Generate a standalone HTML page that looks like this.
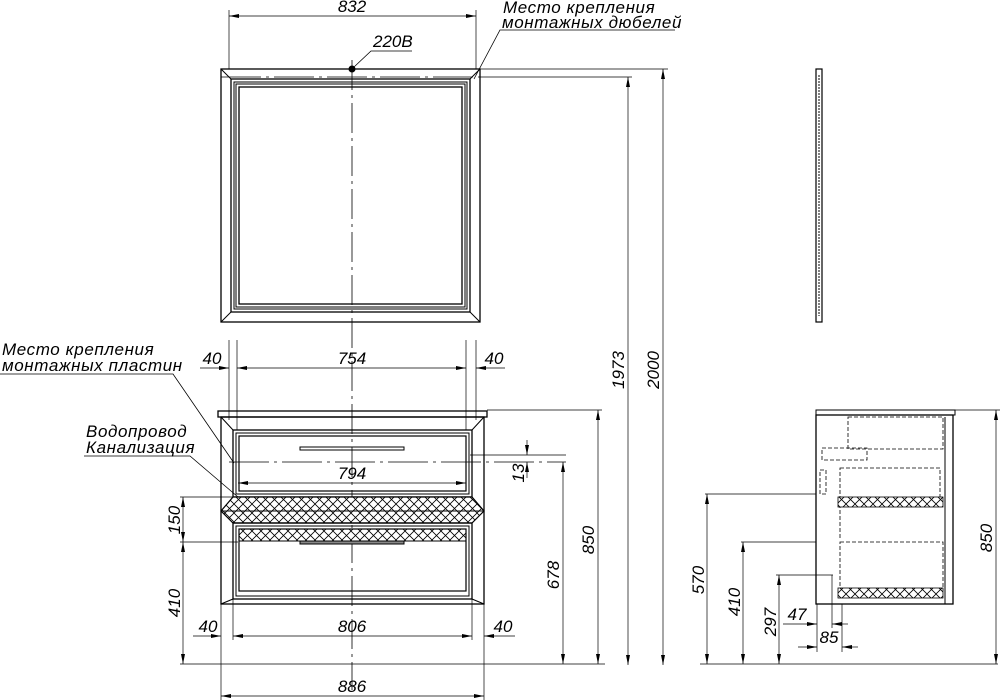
<!DOCTYPE html>
<html><head><meta charset="utf-8"><style>
html,body{margin:0;padding:0;background:#fff;}
svg{display:block;}
text{font-family:"Liberation Sans","DejaVu Sans",sans-serif;font-style:italic;font-size:17px;fill:#000;}
.l{letter-spacing:0.6px;}
</style></head><body>
<svg width="1000" height="700" viewBox="0 0 1000 700" xmlns="http://www.w3.org/2000/svg">
<defs>
<pattern id="h" width="9" height="9" patternUnits="userSpaceOnUse">
<rect width="9" height="9" fill="#fff"/>
<path d="M0,0L9,9M9,0L0,9" stroke="#000" stroke-width="0.8"/>
</pattern>
<marker id="a" viewBox="0 0 10 4" refX="10" refY="2" markerWidth="10" markerHeight="4" orient="auto-start-reverse" markerUnits="userSpaceOnUse"><path d="M0,0L10,2L0,4z" fill="#000"/></marker>
</defs>
<g stroke="#000" fill="none" stroke-width="1">
<line x1="352" y1="60" x2="352" y2="690" stroke-dasharray="30,5,3,5" stroke-width="0.8"/>
<rect x="221" y="69" width="259" height="253" stroke-width="1.3"/>
<rect x="231" y="79" width="239" height="233" stroke-width="1.3"/>
<rect x="234" y="82" width="233" height="227"/>
<rect x="236" y="84" width="229" height="223"/>
<rect x="239" y="87" width="223" height="217" stroke-width="1.3"/>
<line x1="221" y1="69" x2="231" y2="79"/><line x1="480" y1="69" x2="470" y2="79"/>
<line x1="221" y1="322" x2="231" y2="312"/><line x1="480" y1="322" x2="470" y2="312"/>
<line x1="221" y1="77" x2="480" y2="77" stroke-dasharray="40,5,3,5" stroke-width="0.8"/>
<line x1="480" y1="77" x2="632" y2="77" stroke-width="0.7"/>
<circle cx="352" cy="69" r="3" fill="#000"/>
<line x1="229" y1="10" x2="229" y2="69" stroke-width="0.7"/><line x1="476" y1="10" x2="476" y2="69" stroke-width="0.7"/>
<line x1="229" y1="16" x2="476" y2="16" marker-start="url(#a)" marker-end="url(#a)" stroke-width="0.7"/>
<polyline points="354,67 371,51 412,51" stroke-width="0.8"/>
<polyline points="675,30 500,30 474,79" stroke-width="0.8"/>
<line x1="480" y1="69" x2="668" y2="69" stroke-width="0.7"/>
<line x1="628" y1="77" x2="628" y2="665" marker-start="url(#a)" marker-end="url(#a)" stroke-width="0.7"/>
<line x1="663" y1="69" x2="663" y2="665" marker-start="url(#a)" marker-end="url(#a)" stroke-width="0.7"/>
<rect x="816" y="69" width="6" height="253" stroke-width="1.2"/>
<line x1="819" y1="75" x2="819" y2="316" stroke-dasharray="2,1"/>
<line x1="229" y1="340" x2="229" y2="420" stroke-width="0.7"/><line x1="237" y1="340" x2="237" y2="430" stroke-width="0.7"/>
<line x1="466" y1="340" x2="466" y2="430" stroke-width="0.7"/><line x1="476" y1="340" x2="476" y2="420" stroke-width="0.7"/>
<line x1="200" y1="368" x2="229" y2="368" marker-end="url(#a)" stroke-width="0.7"/>
<line x1="237" y1="368" x2="466" y2="368" marker-start="url(#a)" marker-end="url(#a)" stroke-width="0.7"/>
<line x1="505" y1="368" x2="476" y2="368" marker-end="url(#a)" stroke-width="0.7"/>
<polyline points="0,374 173,374 234,463" stroke-width="0.8"/>
<polyline points="84,456 190,456 238,497" stroke-width="0.8"/>
<rect x="218" y="411" width="269" height="6" stroke-width="1.3"/>
<rect x="221" y="417" width="263" height="187" stroke-width="1.3"/>
<rect x="233" y="430" width="239" height="67" stroke-width="1.3"/>
<rect x="236" y="433" width="233" height="61"/>
<rect x="239" y="436" width="227" height="55" stroke-width="1.2"/>
<line x1="221" y1="417" x2="233" y2="430"/><line x1="484" y1="417" x2="472" y2="430"/>
<rect x="300" y="447" width="104" height="3"/>
<polygon points="233,497 472,497 484,511 472,523 233,523 221,511" fill="url(#h)" stroke-width="1.2"/>
<line x1="221" y1="511" x2="484" y2="511"/>
<rect x="233" y="523" width="239" height="76" stroke-width="1.3"/>
<rect x="236" y="526" width="233" height="70"/>
<rect x="239" y="529" width="227" height="12" fill="url(#h)"/>
<rect x="239" y="529" width="227" height="62" stroke-width="1.2"/>
<rect x="300" y="541" width="104" height="3" fill="#888"/>
<line x1="221" y1="604" x2="233" y2="599"/><line x1="484" y1="604" x2="472" y2="599"/>
<line x1="229" y1="462" x2="566" y2="462" stroke-dasharray="40,5,3,5" stroke-width="0.8"/>
<line x1="470" y1="455" x2="566" y2="455" stroke-width="0.7"/>
<line x1="238" y1="483" x2="466" y2="483" marker-start="url(#a)" marker-end="url(#a)" stroke-width="0.7"/>
<line x1="527" y1="440" x2="527" y2="455" marker-end="url(#a)" stroke-width="0.7"/>
<line x1="527" y1="478" x2="527" y2="462" marker-end="url(#a)" stroke-width="0.7"/>
<line x1="180" y1="497" x2="233" y2="497" stroke-width="0.7"/>
<line x1="180" y1="542" x2="238" y2="542" stroke-width="0.7"/>
<line x1="183" y1="497" x2="183" y2="542" marker-start="url(#a)" marker-end="url(#a)" stroke-width="0.7"/>
<line x1="183" y1="542" x2="183" y2="664" marker-start="url(#a)" marker-end="url(#a)" stroke-width="0.7"/>
<line x1="180" y1="664" x2="605" y2="664" stroke-width="0.8"/>
<line x1="700" y1="664" x2="998" y2="664" stroke-width="0.8"/>
<line x1="221" y1="604" x2="221" y2="700" stroke-width="0.7"/><line x1="484" y1="604" x2="484" y2="700" stroke-width="0.7"/>
<line x1="233" y1="599" x2="233" y2="640" stroke-width="0.7"/><line x1="472" y1="599" x2="472" y2="640" stroke-width="0.7"/>
<line x1="193" y1="636" x2="221" y2="636" marker-end="url(#a)" stroke-width="0.7"/>
<line x1="233" y1="636" x2="472" y2="636" marker-start="url(#a)" marker-end="url(#a)" stroke-width="0.7"/>
<line x1="515" y1="636" x2="484" y2="636" marker-end="url(#a)" stroke-width="0.7"/>
<line x1="221" y1="696" x2="484" y2="696" marker-start="url(#a)" marker-end="url(#a)" stroke-width="0.7"/>
<line x1="563" y1="462" x2="563" y2="664" marker-start="url(#a)" marker-end="url(#a)" stroke-width="0.7"/>
<line x1="487" y1="410" x2="602" y2="410" stroke-width="0.7"/>
<line x1="598" y1="410" x2="598" y2="664" marker-start="url(#a)" marker-end="url(#a)" stroke-width="0.7"/>
<rect x="816" y="410" width="139" height="5" stroke-width="1"/>
<rect x="816" y="415" width="137" height="189" stroke-width="1.3"/>
<line x1="945" y1="417" x2="945" y2="604" stroke-width="1"/>
<g stroke-dasharray="4,2" stroke-width="0.8">
<rect x="848" y="417" width="95" height="32"/>
<rect x="822" y="448" width="45" height="12"/>
<rect x="840" y="468" width="100" height="30"/>
<rect x="840" y="542" width="103" height="48"/>
<rect x="820" y="470" width="6" height="24"/>
<line x1="840" y1="498" x2="840" y2="540"/>
</g>
<rect x="838" y="497" width="105" height="10" fill="url(#h)" stroke-width="0.8"/>
<rect x="838" y="588" width="105" height="10" fill="url(#h)" stroke-width="0.8"/>
<line x1="955" y1="410" x2="1000" y2="410" stroke-width="0.7"/>
<line x1="996" y1="410" x2="996" y2="664" marker-start="url(#a)" marker-end="url(#a)" stroke-width="0.7"/>
<line x1="705" y1="494" x2="816" y2="494" stroke-width="0.7"/>
<line x1="707" y1="494" x2="707" y2="664" marker-start="url(#a)" marker-end="url(#a)" stroke-width="0.7"/>
<line x1="741" y1="542" x2="816" y2="542" stroke-width="0.7"/>
<line x1="743" y1="542" x2="743" y2="664" marker-start="url(#a)" marker-end="url(#a)" stroke-width="0.7"/>
<line x1="776" y1="575" x2="833" y2="575" stroke-width="0.7"/>
<line x1="779" y1="575" x2="779" y2="664" marker-start="url(#a)" marker-end="url(#a)" stroke-width="0.7"/>
<line x1="817" y1="604" x2="817" y2="652" stroke-width="0.7"/>
<line x1="832" y1="575" x2="832" y2="628" stroke-width="0.7"/>
<line x1="842" y1="604" x2="842" y2="652" stroke-width="0.7"/>
<line x1="783" y1="624" x2="817" y2="624" marker-end="url(#a)" stroke-width="0.7"/>
<line x1="848" y1="624" x2="832" y2="624" marker-end="url(#a)" stroke-width="0.7"/>
<line x1="798" y1="647" x2="817" y2="647" marker-end="url(#a)" stroke-width="0.7"/>
<line x1="858" y1="647" x2="842" y2="647" marker-end="url(#a)" stroke-width="0.7"/>
</g>
<text x="352" y="12" text-anchor="middle">832</text>
<text x="373" y="47">220В</text>
<text class="l" x="503" y="13">Место крепления</text>
<text class="l" x="502" y="28">монтажных дюбелей</text>
<text class="l" x="2" y="355">Место крепления</text>
<text class="l" x="2" y="371">монтажных пластин</text>
<text class="l" x="86" y="437">Водопровод</text>
<text class="l" x="86" y="453">Канализация</text>
<text x="212" y="364" text-anchor="middle">40</text>
<text x="352" y="364" text-anchor="middle">754</text>
<text x="494" y="364" text-anchor="middle">40</text>
<text x="352" y="479" text-anchor="middle">794</text>
<text x="208" y="632" text-anchor="middle">40</text>
<text x="352" y="632" text-anchor="middle">806</text>
<text x="503" y="632" text-anchor="middle">40</text>
<text x="352" y="692" text-anchor="middle">886</text>
<text x="797" y="620" text-anchor="middle">47</text>
<text x="829" y="643" text-anchor="middle">85</text>
<text transform="translate(624,370) rotate(-90)" text-anchor="middle">1973</text>
<text transform="translate(659,370) rotate(-90)" text-anchor="middle">2000</text>
<text transform="translate(524,473) rotate(-90)" text-anchor="middle">13</text>
<text transform="translate(180,520) rotate(-90)" text-anchor="middle">150</text>
<text transform="translate(180,603) rotate(-90)" text-anchor="middle">410</text>
<text transform="translate(559,575) rotate(-90)" text-anchor="middle">678</text>
<text transform="translate(594,540) rotate(-90)" text-anchor="middle">850</text>
<text transform="translate(992,538) rotate(-90)" text-anchor="middle">850</text>
<text transform="translate(704,580) rotate(-90)" text-anchor="middle">570</text>
<text transform="translate(740,602) rotate(-90)" text-anchor="middle">410</text>
<text transform="translate(776,622) rotate(-90)" text-anchor="middle">297</text>
</svg>
</body></html>
